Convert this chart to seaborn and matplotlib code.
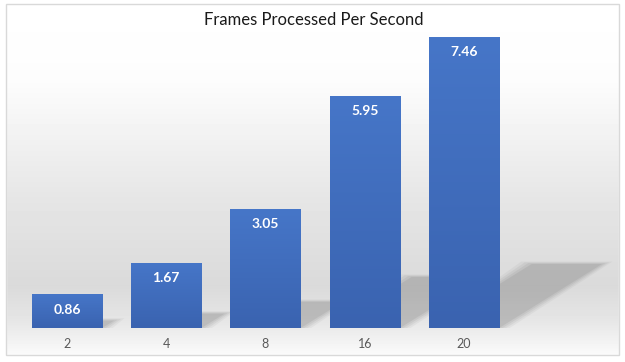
import matplotlib.pyplot as plt
import matplotlib.patches as mpatches
from matplotlib.colors import LinearSegmentedColormap
import seaborn as sns
import pandas as pd
import numpy as np

# data
threads = ['2', '4', '8', '16', '20']
fps = [0.86, 1.67, 3.05, 5.95, 7.46]
title = 'Frames Processed Per Second'

df = pd.DataFrame({'Threads': threads, 'FPS': fps})

sns.set_theme(style='white')
plt.rcParams['font.family'] = ['Lato', 'DejaVu Sans']

W, H = 625, 362
fig = plt.figure(figsize=(W / 100, H / 100), dpi=100)

# background gradient of the chart area (white -> grey -> white)
bg = fig.add_axes([0, 0, 1, 1], zorder=0)
rows = np.arange(H)
shade = np.interp(rows, [0, 80, 200, 285, 320, 362], [1.0, 0.99, 0.90, 0.855, 0.90, 1.0])
img = np.repeat(shade[:, None], 10, axis=1)
bg.imshow(img, cmap='gray', vmin=0, vmax=1, aspect='auto', extent=[0, W, H, 0])
bg.add_patch(mpatches.Rectangle((0, 0), W, 4, color='white', zorder=2))
bg.add_patch(mpatches.Rectangle((0, 355), W, 10, color='white', zorder=2))
bg.add_patch(mpatches.Rectangle((0, 0), 6, H, color='white', zorder=2))
bg.add_patch(mpatches.Rectangle((619, 0), 10, H, color='white', zorder=2))
bg.add_patch(mpatches.Rectangle((6, 4), 613, 351, fill=False, ec='#d9d9d9', lw=1, zorder=3))
bg.set_xlim(0, W)
bg.set_ylim(H, 0)
bg.axis('off')

# plot area
base = 328
ppu = 39.0
ax = fig.add_axes([17.4 / W, (H - base) / H, (513.6 - 17.4) / W, 8 * ppu / H], zorder=1)
ax.patch.set_alpha(0)

sns.barplot(data=df, x='Threads', y='FPS', color='#4472C4', width=0.71,
            saturation=1, ax=ax, zorder=3, edgecolor='none', linewidth=0)

# vertical gradient on each bar
grad = np.linspace(0, 1, 100)[:, None]
bar_cmap = LinearSegmentedColormap.from_list('bar', ['#4676C8', '#3A63B0'])
for p in ax.patches:
    x0, w, h = p.get_x(), p.get_width(), p.get_height()
    im = ax.imshow(grad, cmap=bar_cmap, aspect='auto', extent=[x0, x0 + w, 0, h],
                   zorder=3.5, origin='upper')
    im.set_clip_path(p)

# soft cast shadows behind the bars
for i, v in enumerate(fps):
    w = 0.71
    dx = 0.139 * v
    dh = 0.22 * v
    for k, a in enumerate([0.07, 0.09, 0.11, 0.14]):
        s = 0.035 * (3 - k)
        poly = mpatches.Polygon(
            [(i - w / 2, 0), (i + w / 2 + s, 0),
             (i + w / 2 + dx + s, dh + s * 0.6), (i - w / 2 + dx - s, dh + s * 0.6)],
            closed=True, color='#707070', alpha=a, lw=0, zorder=2, clip_on=False)
        ax.add_patch(poly)

# value labels inside the bars
for i, v in enumerate(fps):
    ax.annotate(f'{v:.2f}', (i, v), xytext=(0, -11), textcoords='offset points',
                ha='center', va='center', color='white', fontsize=10,
                fontweight='bold', zorder=5)

ax.set_xlim(-0.5, 4.5)
ax.set_ylim(0, 8)
ax.set_xlabel('')
ax.set_ylabel('')
ax.set_yticks([])
ax.tick_params(axis='x', length=0, pad=7, labelsize=9, labelcolor='#595959')
for sp in ax.spines.values():
    sp.set_visible(False)

fig.text(314 / W, 1 - 20 / H, title, ha='center', va='center',
         fontsize=12, color='#1a1a1a')

fig.savefig('out.png', dpi=100)
